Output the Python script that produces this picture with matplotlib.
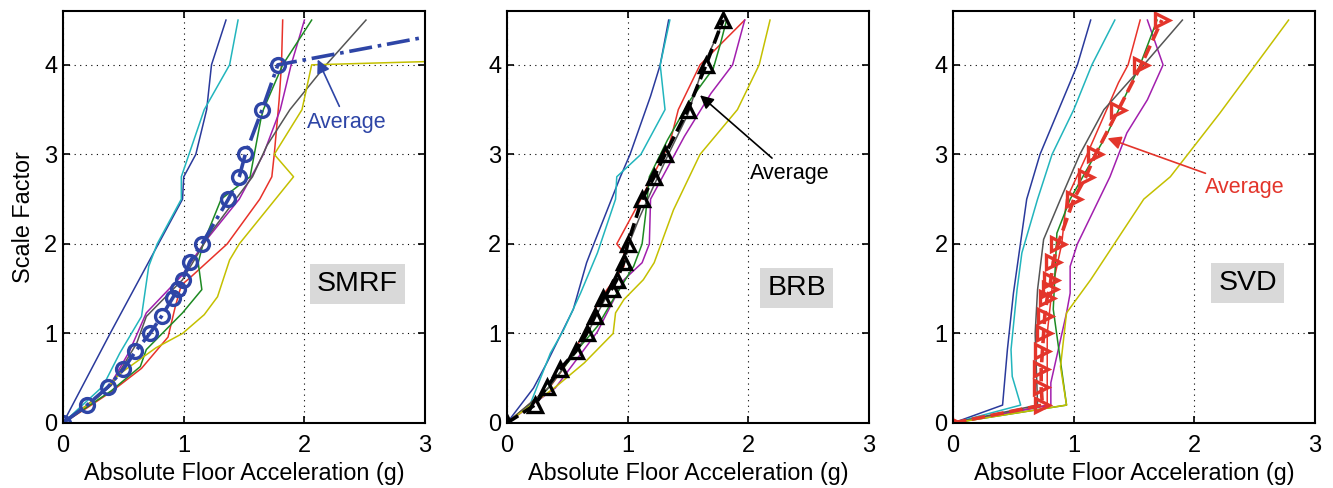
import numpy as np
import matplotlib
matplotlib.use("Agg")
from matplotlib import pyplot as plt

plt.rcParams['font.family'] = ['Liberation Sans', 'DejaVu Sans']

########################################
# data
########################################
# SMRF
smrf_blue    = ([0, 0.39, 0.99, 1.0, 1.10, 1.19, 1.23, 1.35], [0, 1.0, 2.5, 2.75, 3.0, 3.5, 4.0, 4.5])
smrf_cyan    = ([0, 0.33, 0.47, 0.65, 0.71, 0.78, 0.98, 0.98, 1.17, 1.38, 1.45], [0, 0.41, 0.78, 1.19, 1.75, 2.0, 2.5, 2.75, 3.5, 4.0, 4.5])
smrf_red     = ([0, 0.2, 0.4, 0.65, 0.87, 0.93, 0.98, 1.05, 1.36, 1.63, 1.73, 1.75, 1.79, 1.81, 1.82], [0, 0.17, 0.35, 0.61, 0.96, 1.30, 1.54, 1.62, 2.0, 2.5, 2.75, 3.0, 3.6, 4.0, 4.5])
smrf_magenta = ([0, 0.2, 0.38, 0.55, 0.69, 0.98, 1.19, 1.46, 1.66, 1.80, 1.89, 2.0], [0, 0.2, 0.4, 0.8, 1.23, 1.64, 2.05, 2.5, 3.0, 3.5, 4.0, 4.5])
smrf_green   = ([0, 0.2, 0.4, 0.64, 0.69, 0.99, 1.15, 1.12, 1.16, 1.31, 1.55, 1.64, 1.66, 1.82, 2.06], [0, 0.18, 0.36, 0.63, 0.82, 1.23, 1.49, 1.79, 2.0, 2.5, 2.75, 3.4, 3.5, 4.0, 4.5])
smrf_gray    = ([0, 0.2, 0.4, 0.61, 0.69, 0.99, 1.22, 1.57, 1.69, 1.88, 2.18, 2.51], [0, 0.2, 0.42, 0.89, 1.19, 1.6, 2.12, 2.75, 3.1, 3.5, 4.0, 4.5])
smrf_yellow  = ([0, 0.3, 0.47, 0.77, 0.99, 1.17, 1.28, 1.38, 1.46, 1.91, 1.75, 1.98, 2.06, 15.1], [0, 0.3, 0.55, 0.84, 1.0, 1.21, 1.41, 1.82, 2.0, 2.75, 3.0, 3.5, 4.0, 4.5])
smrf_avg     = ([0, 0.2, 0.37, 0.5, 0.6, 0.72, 0.82, 0.91, 0.95, 0.99, 1.05, 1.15, 1.37, 1.46, 1.51, 1.65, 1.78, 3.75],
                [0, 0.2, 0.4, 0.6, 0.8, 1.0, 1.2, 1.4, 1.5, 1.6, 1.8, 2.0, 2.5, 2.75, 3.0, 3.5, 4.0, 4.5])

# BRB
brb_blue    = ([0, 0.22, 0.33, 0.55, 0.66, 0.72, 0.94, 1.02, 1.19, 1.27, 1.34], [0, 0.39, 0.67, 1.27, 1.79, 2.0, 2.75, 3.0, 3.65, 4.0, 4.5])
brb_cyan    = ([0, 0.19, 0.36, 0.47, 0.61, 0.75, 0.90, 0.91, 1.11, 1.31, 1.27, 1.35], [0, 0.2, 0.78, 1.04, 1.45, 1.9, 2.5, 2.75, 3.0, 3.5, 4.0, 4.5])
brb_red     = ([0, 0.36, 0.48, 0.64, 0.77, 0.97, 0.97, 0.91, 1.11, 1.35, 1.42, 1.60, 1.97], [0, 0.41, 0.63, 1.0, 1.38, 1.75, 1.9, 2.0, 2.5, 3.13, 3.5, 4.0, 4.5])
brb_magenta = ([0, 0.4, 0.75, 0.97, 1.12, 1.18, 1.19, 1.29, 1.47, 1.69, 1.87, 1.97], [0, 0.39, 1.02, 1.6, 1.79, 2.0, 2.5, 2.75, 3.2, 3.68, 4.0, 4.5])
brb_green   = ([0, 0.33, 0.61, 0.75, 0.88, 1.05, 1.12, 1.15, 1.18, 1.33, 1.52, 1.71, 1.77, 1.82], [0, 0.37, 0.86, 1.08, 1.38, 1.75, 2.0, 2.34, 2.75, 3.16, 3.61, 3.96, 4.24, 4.5])
brb_gray    = ([0, 0.35, 0.65, 0.76, 0.86, 0.98, 1.10, 1.20, 1.32, 1.50, 1.63, 1.80], [0, 0.4, 0.95, 1.25, 1.5, 1.9, 2.3, 2.6, 2.95, 3.45, 4.0, 4.5])
brb_yellow  = ([0, 0.41, 0.64, 0.88, 0.90, 0.97, 1.13, 1.22, 1.38, 1.60, 1.91, 2.09, 2.18], [0, 0.41, 0.67, 1.0, 1.23, 1.38, 1.6, 1.79, 2.38, 3.0, 3.5, 4.0, 4.5])
brb_avg     = ([0, 0.23, 0.33, 0.44, 0.57, 0.66, 0.73, 0.80, 0.87, 0.91, 0.97, 1.0, 1.12, 1.22, 1.31, 1.50, 1.65, 1.79],
               [0, 0.2, 0.4, 0.6, 0.8, 1.0, 1.2, 1.4, 1.5, 1.6, 1.8, 2.0, 2.5, 2.75, 3.0, 3.5, 4.0, 4.5])

# SVD
svd_blue    = ([0, 0.41, 0.45, 0.50, 0.61, 0.72, 1.03, 1.14], [0, 0.2, 0.82, 1.45, 2.5, 3.0, 4.0, 4.5])
svd_cyan    = ([0, 0.56, 0.49, 0.48, 0.53, 0.57, 0.70, 0.82, 1.0, 1.15, 1.34], [0, 0.2, 0.52, 0.82, 1.49, 1.9, 2.5, 3.0, 3.5, 4.0, 4.5])
svd_gray    = ([0, 0.70, 0.68, 0.70, 0.75, 0.89, 1.05, 1.25, 1.58, 1.90], [0, 0.2, 1.0, 1.49, 2.05, 2.5, 3.0, 3.5, 4.0, 4.5])
svd_red     = ([0, 0.78, 0.78, 0.82, 0.90, 0.94, 1.11, 1.37, 1.45, 1.55], [0, 0.2, 1.0, 1.5, 2.0, 2.5, 3.0, 3.8, 4.0, 4.5])
svd_green   = ([0, 0.94, 0.83, 0.86, 0.97, 1.28, 1.55, 1.69], [0, 0.2, 1.27, 2.12, 2.5, 3.24, 4.0, 4.5])
svd_magenta = ([0, 0.81, 0.81, 0.94, 0.97, 0.97, 1.03, 1.30, 1.44, 1.61, 1.74, 1.61], [0, 0.2, 0.45, 1.23, 1.45, 1.75, 2.0, 2.75, 3.24, 3.61, 4.0, 4.5])
svd_yellow  = ([0, 0.94, 0.89, 0.94, 1.14, 1.58, 1.80, 2.21, 2.78], [0, 0.2, 0.63, 1.23, 1.6, 2.5, 2.75, 3.46, 4.5])
svd_avg     = ([0, 0.74, 0.73, 0.73, 0.74, 0.75, 0.76, 0.78, 0.80, 0.81, 0.83, 0.87, 1.0, 1.10, 1.18, 1.37, 1.56, 1.73],
               [0, 0.2, 0.4, 0.6, 0.8, 1.0, 1.2, 1.4, 1.5, 1.6, 1.8, 2.0, 2.5, 2.75, 3.0, 3.5, 4.0, 4.5])

line_colors = ["#2a3a9c", "#22b5bd", "#e8322a", "#a21fae", "#1d8a22", "#555555", "#c4c000"]

panels = [
  dict(lines=[smrf_blue, smrf_cyan, smrf_red, smrf_magenta, smrf_green, smrf_gray, smrf_yellow],
       avg=smrf_avg, avg_color="#2e45a6", ls="-.", marker="o", name="SMRF",
       text_xy=(2.35, 3.36), tip=(2.11, 4.06), name_xy=(2.44, 1.55)),
  dict(lines=[brb_blue, brb_cyan, brb_red, brb_magenta, brb_green, brb_gray, brb_yellow],
       avg=brb_avg, avg_color="black", ls="--", marker="^", name="BRB",
       text_xy=(2.34, 2.79), tip=(1.6, 3.66), name_xy=(2.40, 1.51)),
  dict(lines=[svd_blue, svd_cyan, svd_red, svd_magenta, svd_green, svd_gray, svd_yellow],
       avg=svd_avg, avg_color="#e3352b", ls="--", marker=">", name="SVD",
       text_xy=(2.42, 2.63), tip=(1.28, 3.18), name_xy=(2.44, 1.56)),
]

########################################
# figure
########################################
fig = plt.figure(figsize=(13.33, 4.88), dpi=100)
lefts = [0.0473, 0.3803, 0.715]
for i, (left, p) in enumerate(zip(lefts, panels)):
  ax = fig.add_axes([left, 0.1332, 0.2716, 0.844])
  for (xs, ys), c in zip(p["lines"], line_colors):
    ax.plot(xs, ys, color=c, lw=1.1)
  ax.plot(p["avg"][0], p["avg"][1], color=p["avg_color"], ls=p["ls"], lw=2.6,
          marker=p["marker"], ms=10, mfc="none", mec=p["avg_color"], mew=2.4)
  ax.set_xlim(0, 3)
  ax.set_ylim(0, 4.6)
  ax.set_xticks([0, 1, 2, 3])
  ax.set_yticks([0, 1, 2, 3, 4])
  ax.grid(True, color="black", ls=(0, (1, 4)), lw=0.8)
  ax.tick_params(direction="in", top=True, right=True, labelsize=17, length=5, width=1.2)
  ax.tick_params(axis="x", pad=9)
  ax.tick_params(axis="y", pad=4)
  for s in ax.spines.values():
    s.set_linewidth(1.5)
  ax.set_xlabel("Absolute Floor Acceleration (g)", fontsize=16.8, labelpad=3)
  if i == 0:
    ax.set_ylabel("Scale Factor", fontsize=16.8, labelpad=7)
  ax.annotate("Average", xy=p["tip"], xytext=p["text_xy"], fontsize=15.5, color=p["avg_color"],
              ha="center", va="center",
              arrowprops=dict(arrowstyle="-|>", color=p["avg_color"], lw=1.2, mutation_scale=20,
                              shrinkA=2, shrinkB=0))
  ax.text(p["name_xy"][0], p["name_xy"][1], p["name"], fontsize=20.5, ha="center", va="center",
          bbox=dict(boxstyle="square,pad=0.25", fc="#d9d9d9", ec="none"))

plt.savefig("out.png", dpi=100)
